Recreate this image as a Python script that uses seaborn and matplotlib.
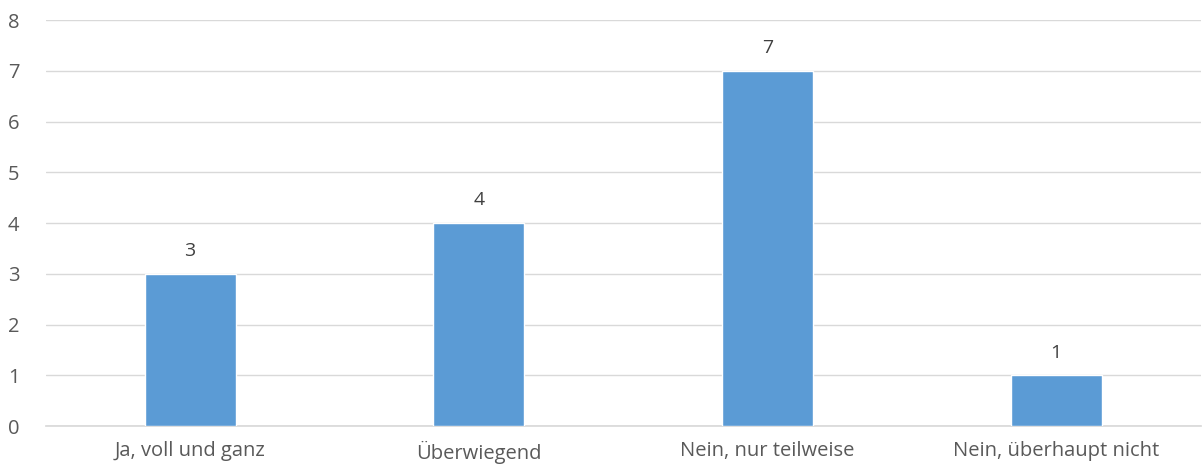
import pandas as pd
import matplotlib.pyplot as plt
import seaborn as sns

# Daten
antworten = ['Ja, voll und ganz', 'Überwiegend', 'Nein, nur teilweise', 'Nein, überhaupt nicht']
anzahl = [3, 4, 7, 1]

df = pd.DataFrame({'Antwort': antworten, 'Anzahl': anzahl})

sns.set_theme(style="white")
plt.rcParams['font.family'] = ['Open Sans', 'DejaVu Sans']

fig = plt.figure(figsize=(12.03, 4.71), dpi=100)
ax = fig.add_axes([0.038, 0.0955, 0.96, 0.862])

sns.barplot(x='Antwort', y='Anzahl', data=df, color='#5B9BD5', width=0.315,
            saturation=1, ax=ax, zorder=3)

for i, v in enumerate(anzahl):
    ax.text(i, v + 0.27, str(v), ha='center', va='bottom', fontsize=14, color='#404040')

ax.set_ylim(0, 8)
ax.set_xlim(-0.5, 3.5)
ax.set_yticks(range(0, 9))
ax.yaxis.grid(True, color='#D9D9D9', linewidth=1, zorder=0)
ax.set_axisbelow(True)
for s in ['top', 'right', 'left']:
    ax.spines[s].set_visible(False)
ax.spines['bottom'].set_color('#D9D9D9')
ax.tick_params(axis='both', length=0, labelsize=14.5, labelcolor='#595959')
ax.tick_params(axis='x', pad=11)
ax.tick_params(axis='y', pad=19)
ax.set_xlabel('')
ax.set_ylabel('')

fig.savefig('out.png', dpi=100)
